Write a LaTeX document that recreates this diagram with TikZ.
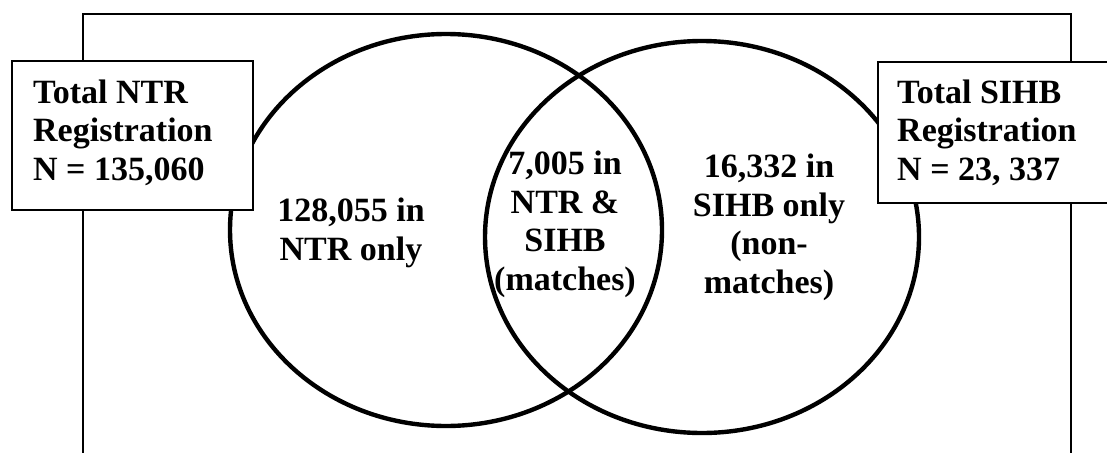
\documentclass[tikz,border=0pt]{standalone}
\usepackage{fontspec}
\setmainfont{Liberation Serif}
\usetikzlibrary{shapes.geometric}
\begin{document}
\begin{tikzpicture}[x=1pt,y=-1pt,
  frameline/.style={line width=2pt},
  setring/.style={draw,ellipse,line width=4.4pt,inner sep=0pt},
  totalbox/.style={draw,fill=white,line width=2.5pt,rectangle,inner sep=0pt},
  lbl/.style={font=\fontsize{34}{38.5}\selectfont\bfseries,inner sep=0pt}]
\useasboundingbox (0,0) rectangle (1107,452);
% open frame behind the diagram
\coordinate (fbl) at (83,460);
\coordinate (ftl) at (83,14);
\coordinate (ftr) at (1071,14);
\coordinate (fbr) at (1071,460);
\draw[frameline] (fbl) -- (ftl) -- (ftr) -- (fbr);
% the two registers
\node[setring,minimum width=432pt,minimum height=392pt] (ntr) at (446,230) {};
\node[setring,minimum width=434pt,minimum height=392pt] (sihb) at (702,237) {};
% totals (multi-line labels are placed by the baseline of their last line)
\node[totalbox,minimum width=241pt,minimum height=149pt] (ntrbox) at (132.5,135.5) {};
\node[totalbox,minimum width=240pt,minimum height=141pt] (sihbbox) at (998,132.5) {};
\node[lbl,align=left,anchor=base west] (ntrtot) at (33,180) {Total NTR\\Registration\\N = 135,060};
\node[lbl,align=left,anchor=base west] (sihbtot) at (897,180) {Total SIHB\\Registration\\N = 23, 337};
% region counts
\node[lbl,align=center,anchor=base] (ntronly) at (351,260) {128,055 in\\NTR only};
\node[lbl,align=center,anchor=base] (both) at (565,290) {7,005 in\\NTR \&\\SIHB\\(matches)};
\node[lbl,align=center,anchor=base] (sihbonly) at (769,293) {16,332 in\\SIHB only\\(non-\\matches)};
\end{tikzpicture}
\end{document}
